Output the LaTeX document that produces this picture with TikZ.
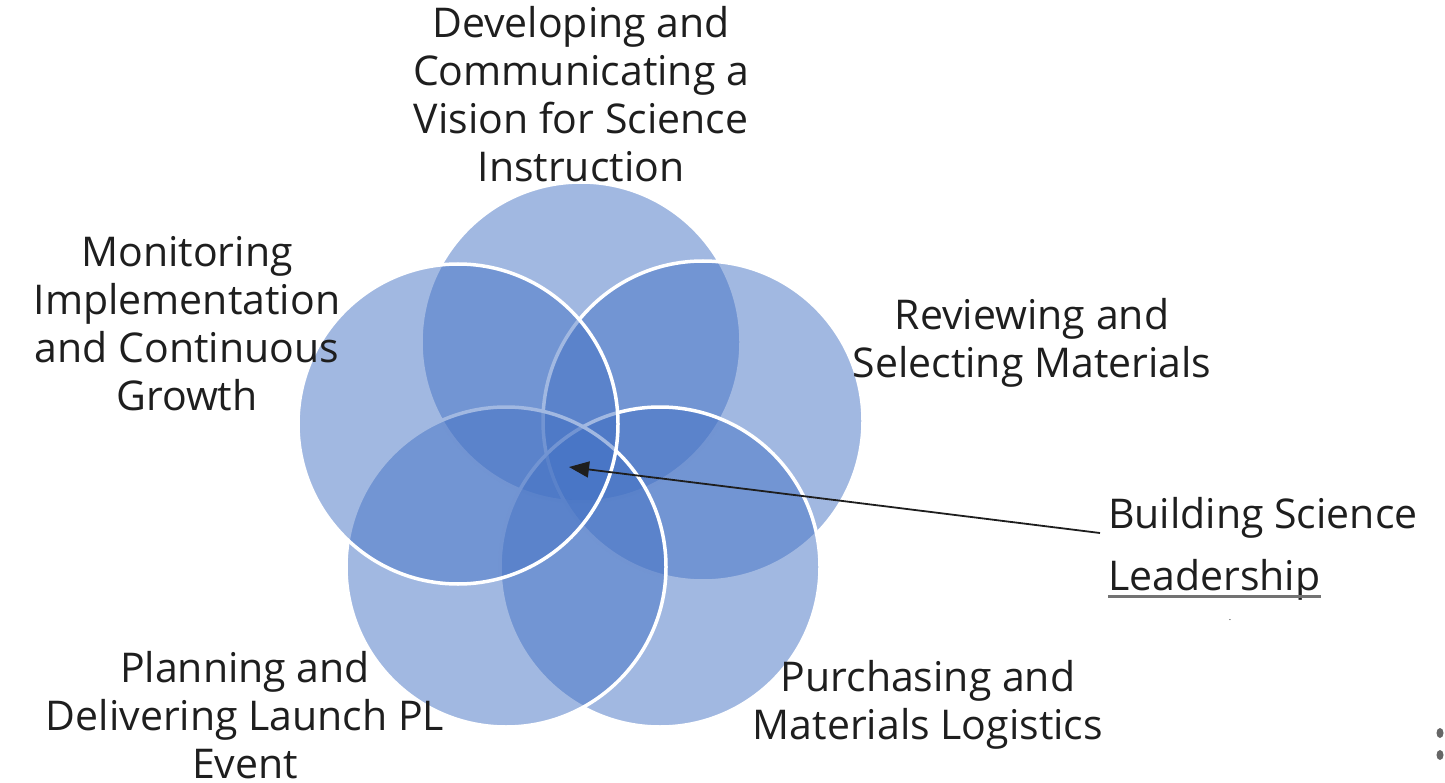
\documentclass[tikz,border=0pt]{standalone}
\usepackage{fontspec}
\setmainfont{Open Sans}
\usetikzlibrary{arrows.meta}
\definecolor{petal}{RGB}{68,114,196}
\definecolor{ink}{RGB}{30,30,30}

\begin{document}
\begin{tikzpicture}[x=1pt,y=-1pt,
  petalcirc/.style={circle,minimum size=320pt,inner sep=0pt,
    fill=petal,fill opacity=0.5,draw=white,line width=3.5pt},
  lbl/.style={text=ink,align=center,inner sep=0pt,
    font=\fontsize{41}{48}\selectfont}]
\useasboundingbox (0,0) rectangle (1445,783);
\foreach \x/\y/\n in {581/342/top, 703/421/right, 660/567/bright,
                      506/567/bleft, 458/424/left}
    \node[petalcirc] (\n) at (\x,\y) {};

\node[lbl] (ttop) at (581,94) {Developing and\\Communicating a\\Vision for Science\\Instruction};
\node[lbl] (tleft) at (187,324) {Monitoring\\Implementation\\and Continuous\\Growth};
\node[lbl] (tright) at (1032,343) {Reviewing and\\Selecting Materials};
\node[lbl] (tbleft) at (245,715) {Planning and\\Delivering Launch PL\\Event};
\node[lbl] (tbright) at (928,705) {Purchasing and\\Materials Logistics};

\node[lbl,anchor=base west] (bsl) at (1108,528) {Building Science};
\node[lbl,anchor=base west] (lead) at (1108,590) {Leadership};
\draw[black!55,line width=3pt] ([yshift=-6pt]lead.base west) -- ([yshift=-6pt]lead.base east);
\node[text=ink,font=\small] (dot) at (1230,620) {.};
\fill[black!60] (1440,733) ellipse (3.5 and 5) (1440,755) ellipse (3.5 and 5);

\coordinate (tip) at (569,467);
\draw[ink,line width=1.8pt,-{Triangle[length=20pt,width=16pt]}]
    ([shift={(-8,5)}]bsl.base west) -- (tip);
\end{tikzpicture}
\end{document}
